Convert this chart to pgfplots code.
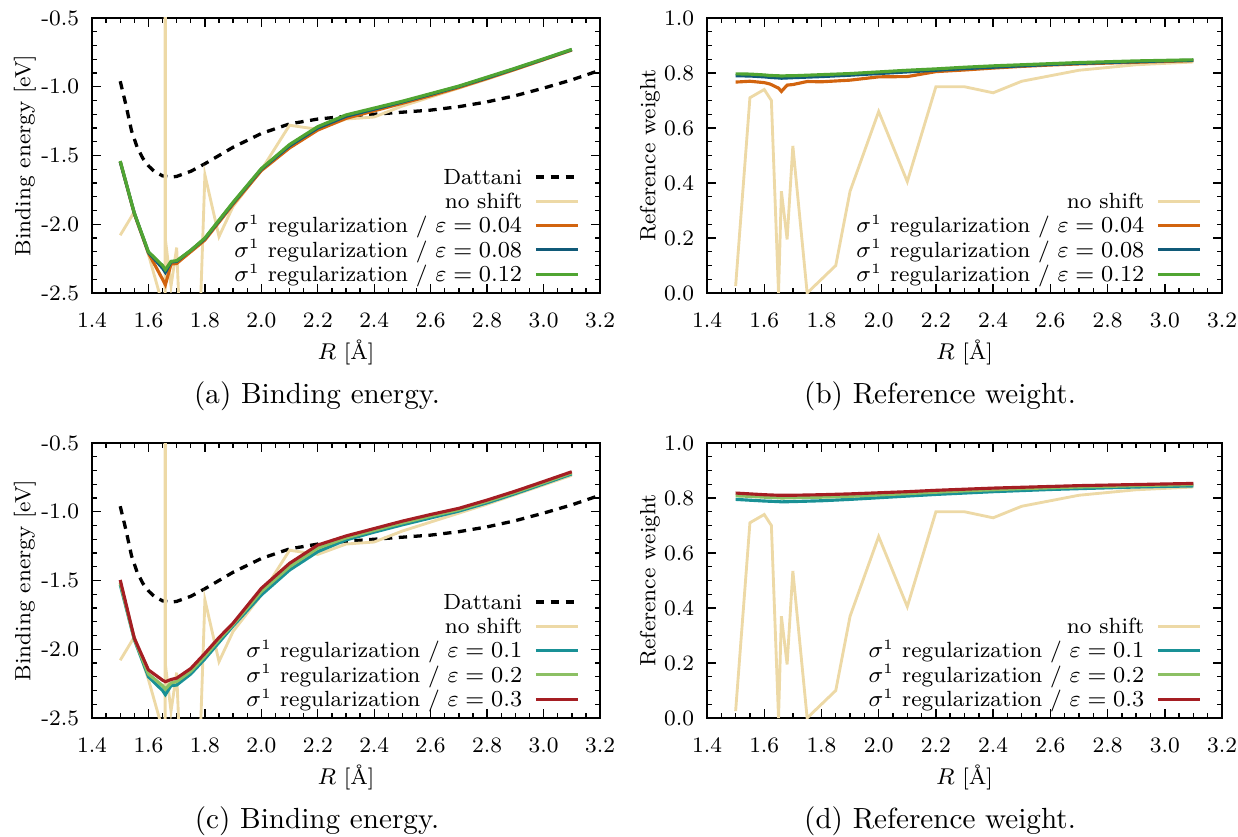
\documentclass[border=0pt]{standalone}
\usepackage{pgfplots}
\pgfplotsset{compat=1.18}
\definecolor{pale}{RGB}{237,217,166}
\definecolor{corange}{RGB}{210,100,15}
\definecolor{cblue}{RGB}{16,90,120}
\definecolor{cgreen}{RGB}{80,165,50}
\definecolor{cteal}{RGB}{25,145,150}
\definecolor{clgreen}{RGB}{140,192,100}
\definecolor{cred}{RGB}{165,30,35}

\pgfplotstableread{
R E
1.50 -0.96
1.52 -1.13
1.54 -1.32
1.56 -1.44
1.58 -1.52
1.60 -1.575
1.62 -1.615
1.65 -1.648
1.68 -1.657
1.70 -1.652
1.75 -1.615
1.80 -1.56
1.85 -1.50
1.90 -1.44
2.00 -1.34
2.10 -1.27
2.20 -1.235
2.30 -1.215
2.40 -1.20
2.50 -1.185
2.60 -1.17
2.70 -1.145
2.80 -1.11
2.90 -1.065
3.00 -1.01
3.10 -0.95
3.20 -0.88
}\dattani

\pgfplotstableread{
R E
1.50 -2.08
1.55 -1.91
1.60 -2.22
1.659 -2.65
1.6595 60
1.66 -2.11
1.68 -2.45
1.70 -2.17
1.75 -4.7
1.80 -1.64
1.85 -2.09
1.90 -1.87
2.00 -1.605
2.10 -1.28
2.20 -1.31
2.30 -1.235
2.40 -1.22
2.50 -1.14
2.60 -1.075
2.70 -1.01
2.80 -0.945
2.90 -0.875
3.00 -0.805
3.10 -0.735
}\noshiftE

\pgfplotstableread{
R o b g
1.50 -1.545 -1.545 -1.54
1.55 -1.925 -1.92 -1.92
1.60 -2.21 -2.205 -2.20
1.65 -2.40 -2.32 -2.30
1.66 -2.44 -2.35 -2.33
1.68 -2.29 -2.275 -2.27
1.70 -2.285 -2.27 -2.265
1.75 -2.20 -2.19 -2.19
1.80 -2.115 -2.105 -2.10
1.85 -1.985 -1.975 -1.97
1.90 -1.855 -1.845 -1.84
2.00 -1.61 -1.60 -1.595
2.10 -1.445 -1.43 -1.42
2.20 -1.315 -1.30 -1.29
2.30 -1.23 -1.215 -1.205
2.40 -1.175 -1.163 -1.155
2.50 -1.12 -1.11 -1.105
2.60 -1.065 -1.055 -1.05
2.70 -1.005 -0.998 -0.995
2.80 -0.94 -0.935 -0.93
2.90 -0.873 -0.868 -0.865
3.00 -0.803 -0.80 -0.797
3.10 -0.733 -0.73 -0.728
}\regA

\pgfplotstableread{
R t l r
1.50 -1.53 -1.515 -1.496
1.55 -1.93 -1.925 -1.92
1.60 -2.20 -2.18 -2.15
1.65 -2.30 -2.265 -2.225
1.66 -2.33 -2.29 -2.236
1.68 -2.265 -2.245 -2.22
1.70 -2.26 -2.235 -2.21
1.75 -2.18 -2.16 -2.14
1.80 -2.07 -2.05 -2.03
1.85 -1.95 -1.93 -1.915
1.90 -1.83 -1.82 -1.81
2.00 -1.605 -1.58 -1.557
2.10 -1.424 -1.40 -1.375
2.20 -1.29 -1.265 -1.242
2.30 -1.205 -1.19 -1.176
2.40 -1.148 -1.135 -1.122
2.50 -1.095 -1.081 -1.068
2.60 -1.045 -1.032 -1.02
2.70 -0.995 -0.985 -0.975
2.80 -0.935 -0.925 -0.915
2.90 -0.868 -0.859 -0.85
3.00 -0.797 -0.789 -0.78
3.10 -0.725 -0.717 -0.709
}\regC

\pgfplotstableread{
R w
1.50 0.025
1.55 0.71
1.60 0.74
1.625 0.70
1.65 0.0
1.66 0.37
1.68 0.195
1.70 0.535
1.75 0.0
1.80 0.05
1.85 0.10
1.90 0.37
2.00 0.66
2.10 0.405
2.20 0.75
2.30 0.75
2.40 0.728
2.50 0.77
2.60 0.79
2.70 0.81
2.80 0.82
2.90 0.83
3.00 0.835
3.10 0.84
}\noshiftW

\pgfplotstableread{
R o b g
1.50 0.767 0.790 0.797
1.55 0.770 0.789 0.796
1.60 0.765 0.786 0.793
1.62 0.760 0.784 0.791
1.65 0.745 0.782 0.790
1.66 0.733 0.781 0.789
1.68 0.756 0.782 0.790
1.70 0.758 0.783 0.790
1.75 0.769 0.785 0.792
1.80 0.768 0.787 0.794
1.90 0.774 0.792 0.798
2.00 0.786 0.798 0.804
2.10 0.787 0.804 0.810
2.20 0.805 0.810 0.815
2.30 0.811 0.816 0.821
2.40 0.818 0.821 0.826
2.50 0.824 0.826 0.830
2.60 0.829 0.831 0.834
2.70 0.833 0.835 0.838
2.80 0.836 0.838 0.841
2.90 0.839 0.841 0.844
3.00 0.842 0.844 0.846
3.10 0.845 0.846 0.848
}\regB

\pgfplotstableread{
R t l r
1.50 0.795 0.808 0.818
1.55 0.792 0.806 0.815
1.60 0.789 0.803 0.812
1.65 0.787 0.801 0.810
1.66 0.786 0.800 0.810
1.70 0.787 0.801 0.810
1.80 0.790 0.803 0.812
1.90 0.795 0.806 0.815
2.00 0.801 0.811 0.819
2.10 0.807 0.816 0.823
2.20 0.813 0.821 0.828
2.30 0.818 0.826 0.832
2.40 0.823 0.830 0.836
2.50 0.827 0.834 0.839
2.60 0.831 0.837 0.842
2.70 0.834 0.840 0.845
2.80 0.837 0.842 0.847
2.90 0.840 0.845 0.849
3.00 0.842 0.847 0.851
3.10 0.844 0.849 0.853
}\regD

\pgfplotsset{
  legend image code/.code={\draw[#1] (0pt,0pt) -- (14.7pt,0pt);},
  base/.style={
    scale only axis, height=96.25pt,
    xmin=1.4, xmax=3.2,
    xtick={1.4,1.6,1.8,2.0,2.2,2.4,2.6,2.8,3.0,3.2},
    xticklabels={1.4,1.6,1.8,2.0,2.2,2.4,2.6,2.8,3.0,3.2},
    minor x tick num=3,
    tick align=inside,
    major tick length=3.15pt, minor tick length=1.75pt,
    every tick/.style={black, line width=0.5pt},
    axis line style={line width=0.7pt},
    font=\fontsize{7.7}{9.2}\selectfont,
    xlabel={$R$ [\AA]},
    xlabel style={at={(axis description cs:0.5,-0.2145)}, anchor=center},
    xticklabel shift=3.5pt, yticklabel shift=1pt,
    legend plot pos=right,
    legend cell align=right,
    legend style={draw=none, fill=none, at={(1,0)}, anchor=south east,
      xshift=-7pt, yshift=1.4pt, inner sep=0pt, row sep=-1.5pt,
      column sep=4.2pt,
      nodes={inner sep=0pt, text height=0.75em, text depth=0.25em}},
    every axis plot/.append style={line width=1.1pt},
  },
  energy/.style={base, width=177.8pt,
    ymin=-2.5, ymax=-0.5,
    ytick={-2.5,-2,-1.5,-1,-0.5},
    yticklabels={-2.5,-2.0,-1.5,-1.0,-0.5},
    minor y tick num=4,
    ylabel={Binding energy [eV]},
    ylabel style={at={(axis description cs:-0.132,0.5)}, anchor=center},
  },
  weight/.style={base, width=180.25pt,
    ymin=0, ymax=1,
    ytick={0,0.2,0.4,0.6,0.8,1.0},
    yticklabels={0.0,0.2,0.4,0.6,0.8,1.0},
    minor y tick num=3,
    ylabel={Reference weight},
    ylabel style={at={(axis description cs:-0.111,0.5)}, anchor=center},
  },
  dat/.style={black, line width=1.15pt, dash pattern=on 2.9pt off 2.3pt},
  ns/.style={pale, line width=1pt},
}

\begin{document}
\begin{tikzpicture}
\path[use as bounding box] (0,0) rectangle (433.3pt,292.6pt);

% (a)
\begin{axis}[energy, at={(32.2pt,190.05pt)}]
\addplot[dat] table[x=R,y=E] {\dattani};
\addlegendentry{Dattani}
\addplot[ns] table[x=R,y=E] {\noshiftE};
\addlegendentry{no shift}
\addplot[corange] table[x=R,y=o] {\regA};
\addlegendentry{$\sigma^1$ regularization / $\varepsilon=0.04$}
\addplot[cblue] table[x=R,y=b] {\regA};
\addlegendentry{$\sigma^1$ regularization / $\varepsilon=0.08$}
\addplot[cgreen] table[x=R,y=g] {\regA};
\addlegendentry{$\sigma^1$ regularization / $\varepsilon=0.12$}
\end{axis}

% (b)
\begin{axis}[weight, at={(247.45pt,190.05pt)}]
\addplot[ns] table[x=R,y=w] {\noshiftW};
\addlegendentry{no shift}
\addplot[corange] table[x=R,y=o] {\regB};
\addlegendentry{$\sigma^1$ regularization / $\varepsilon=0.04$}
\addplot[cblue] table[x=R,y=b] {\regB};
\addlegendentry{$\sigma^1$ regularization / $\varepsilon=0.08$}
\addplot[cgreen] table[x=R,y=g] {\regB};
\addlegendentry{$\sigma^1$ regularization / $\varepsilon=0.12$}
\end{axis}

% (c)
\begin{axis}[energy, at={(32.2pt,41.3pt)}]
\addplot[dat] table[x=R,y=E] {\dattani};
\addlegendentry{Dattani}
\addplot[ns] table[x=R,y=E] {\noshiftE};
\addlegendentry{no shift}
\addplot[cteal] table[x=R,y=t] {\regC};
\addlegendentry{$\sigma^1$ regularization / $\varepsilon=0.1$}
\addplot[clgreen] table[x=R,y=l] {\regC};
\addlegendentry{$\sigma^1$ regularization / $\varepsilon=0.2$}
\addplot[cred] table[x=R,y=r] {\regC};
\addlegendentry{$\sigma^1$ regularization / $\varepsilon=0.3$}
\end{axis}

% (d)
\begin{axis}[weight, at={(247.45pt,41.3pt)}]
\addplot[ns] table[x=R,y=w] {\noshiftW};
\addlegendentry{no shift}
\addplot[cteal] table[x=R,y=t] {\regD};
\addlegendentry{$\sigma^1$ regularization / $\varepsilon=0.1$}
\addplot[clgreen] table[x=R,y=l] {\regD};
\addlegendentry{$\sigma^1$ regularization / $\varepsilon=0.2$}
\addplot[cred] table[x=R,y=r] {\regD};
\addlegendentry{$\sigma^1$ regularization / $\varepsilon=0.3$}
\end{axis}

\tikzset{captionnode/.style={font=\fontsize{10.2}{12.2}\selectfont, inner sep=0pt, text height=0.75em, text depth=0.25em}}
\node[captionnode] at (110.95pt,154pt) {(a) Binding energy.};
\node[captionnode] at (329pt,154pt) {(b) Reference weight.};
\node[captionnode] at (110.95pt,5.3pt) {(c) Binding energy.};
\node[captionnode] at (329pt,5.3pt) {(d) Reference weight.};
\end{tikzpicture}
\end{document}
